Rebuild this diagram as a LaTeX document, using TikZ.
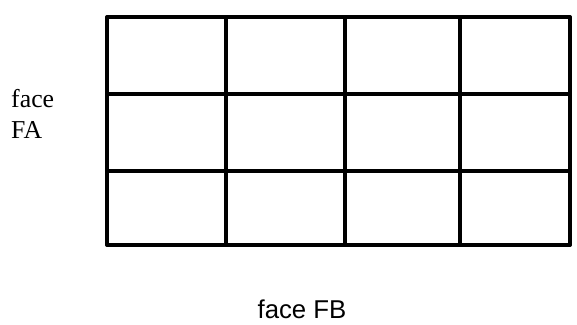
\documentclass[tikz,border=0pt]{standalone}
\usepackage{fontspec}
\setmainfont{Liberation Serif}
\setsansfont{Liberation Sans}
\usetikzlibrary{positioning}

\begin{document}
\begin{tikzpicture}[
  x=0.03cm, y=-0.03cm,
  gridLine/.style={line width=3pt, line cap=round},
  faceLabel/.style={font=\fontsize{22}{26.4}\selectfont, align=left, inner sep=0pt},
  faceLabelB/.style={font=\sffamily\fontsize{22}{26}\selectfont, inner sep=0pt},
]
\useasboundingbox (0,0) rectangle (577,324);
% grid of cells
\foreach \xa in {107,226,345,460,570}
  \draw[gridLine] (\xa,17) -- (\xa,245);
\foreach \ya in {17,94,171,245}
  \draw[gridLine] (107,\ya) -- (570,\ya);
% labels
\node[faceLabel, anchor=base west] (fa) at (11,138) {face\\FA};
\node[faceLabelB, anchor=base] (fb) at (302,318) {face FB};
\end{tikzpicture}
\end{document}
